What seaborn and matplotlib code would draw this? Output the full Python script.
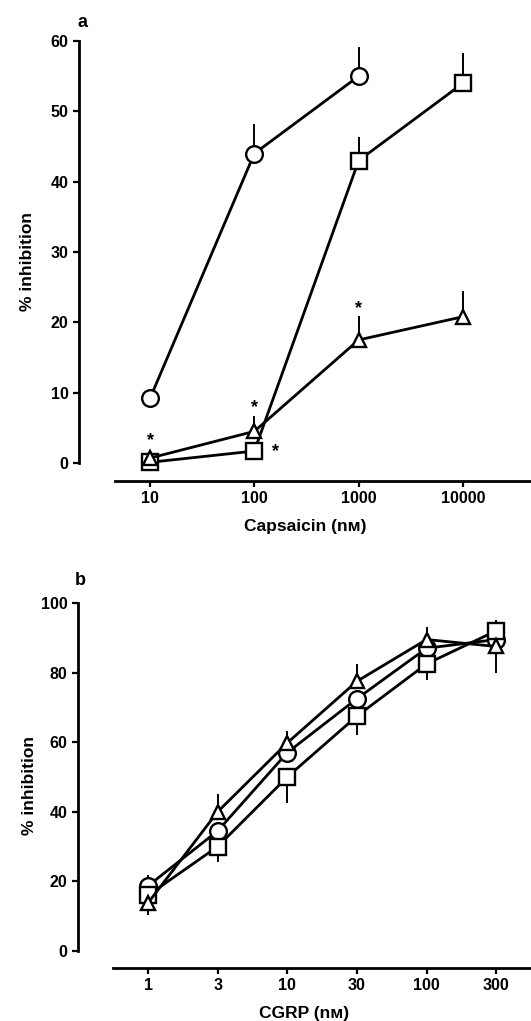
import numpy as np
import pandas as pd
import matplotlib
matplotlib.use("Agg")
import matplotlib.pyplot as plt
import seaborn as sns

sns.set_style("ticks")
plt.rcParams['font.family'] = ['Liberation Sans', 'DejaVu Sans']
plt.rcParams['text.color'] = 'black'
plt.rcParams['axes.labelcolor'] = 'black'
plt.rcParams['xtick.color'] = 'black'
plt.rcParams['ytick.color'] = 'black'

# ---------------- Data: panel a (capsaicin) ----------------
cap_conc = [10, 100, 1000, 10000]
cap_ticks = ["10", "100", "1000", "10000"]

circ_a_x = [10, 100, 1000]
circ_a_y = [9.2, 44.0, 55.0]
circ_a_up = [1.3, 4.2, 4.2]

sq_a_y = [0.1, 1.7, 43.0, 54.0]
sq_a_up = [0.0, 0.0, 3.4, 4.3]
sq_a_dn = [0.0, 1.3, 0.0, 0.0]

tri_a_y = [0.7, 4.5, 17.5, 20.8]
tri_a_up = [0.0, 2.2, 3.4, 3.6]

# asterisks (x, y)
star_x = [10, 100, 160, 1000]
star_y = [3.2, 7.9, 1.6, 22.0]

# ---------------- Data: panel b (CGRP) ----------------
cgrp_labels = ["1", "3", "10", "30", "100", "300"]
cgrp_pos = [0, 1, 2, 3, 4, 5]

circ_b_y = [18.7, 34.5, 57.0, 72.5, 87.0, 89.5]
circ_b_up = [3.0, 2.5, 0.0, 0.0, 0.0, 0.0]
circ_b_dn = [0.0, 0.0, 0.0, 0.0, 0.0, 0.0]

sq_b_y = [16.0, 30.0, 50.0, 67.5, 82.5, 92.0]
sq_b_up = [0.0, 0.0, 0.0, 0.0, 0.0, 3.0]
sq_b_dn = [0.0, 4.5, 7.5, 5.5, 4.5, 0.0]

tri_b_y = [13.8, 40.0, 59.8, 77.5, 89.5, 87.5]
tri_b_up = [0.0, 5.0, 3.5, 5.0, 3.5, 0.0]
tri_b_dn = [3.5, 0.0, 0.0, 0.0, 0.0, 7.5]

LW = 2.0


def series(ax, x, y, up, dn, marker, ms):
    x = np.asarray(x, float)
    y = np.asarray(y, float)
    up = np.asarray(up, float)
    dn = np.asarray(dn, float)
    m = up > 0
    ax.vlines(x[m], y[m], y[m] + up[m], color="black", lw=1.4, zorder=2)
    m = dn > 0
    ax.vlines(x[m], y[m] - dn[m], y[m], color="black", lw=1.4, zorder=2)
    sns.lineplot(x=x, y=y, ax=ax, color="black", lw=LW, marker=marker,
                 markersize=ms, markerfacecolor="white",
                 markeredgecolor="black", markeredgewidth=1.7, zorder=3,
                 sort=False, estimator=None)


fig = plt.figure(figsize=(5.31, 10.21), dpi=100)
H = 1021

# ---------------- panel a ----------------
axa = fig.add_axes([79 / 531, 1 - 481 / H, (531 - 79) / 531, (481 - 41) / H])
series(axa, circ_a_x, circ_a_y, circ_a_up, [0] * 3, "o", 12)
series(axa, cap_conc, sq_a_y, sq_a_up, sq_a_dn, "s", 11)
series(axa, cap_conc, tri_a_y, tri_a_up, [0] * 4, "^", 10)
for sx, sy in zip(star_x, star_y):
    axa.text(sx, sy, "*", ha="center", va="center", fontsize=13,
             fontweight="bold", color="black")
axa.set_xscale("log")
axa.set_xlim(10 ** 0.319, 10 ** 4.652)
axa.set_ylim(-2.56, 60)
axa.set_xticks(cap_conc)
axa.set_xticklabels(cap_ticks)
axa.minorticks_off()
axa.set_yticks([0, 10, 20, 30, 40, 50, 60])
axa.spines["left"].set_bounds(0, 60)
axa.spines["bottom"].set_bounds(10 ** 0.664, 10 ** 4.652)
axa.set_xlabel("Capsaicin (nᴍ)", fontsize=12.5, fontweight="bold", labelpad=9,
               color="black")
axa.set_ylabel("% inhibition", fontsize=12.5, fontweight="bold", labelpad=11,
               color="black")
axa.text(78, H - 22, "a", transform=None, fontsize=13, fontweight="bold",
         ha="left", va="center", color="black")

# ---------------- panel b ----------------
axb = fig.add_axes([78 / 531, 1 - 968 / H, (531 - 78) / 531, (968 - 603) / H])
series(axb, cgrp_pos, circ_b_y, circ_b_up, circ_b_dn, "o", 12)
series(axb, cgrp_pos, sq_b_y, sq_b_up, sq_b_dn, "s", 11)
series(axb, cgrp_pos, tri_b_y, tri_b_up, tri_b_dn, "^", 10)
axb.set_xlim(-1.006, 5.50)
axb.set_ylim(-4.9, 100)
axb.set_xticks(cgrp_pos)
axb.set_xticklabels(cgrp_labels)
axb.set_yticks([0, 20, 40, 60, 80, 100])
axb.spines["left"].set_bounds(0, 100)
axb.spines["bottom"].set_bounds(-0.503, 5.50)
axb.set_xlabel("CGRP (nᴍ)", fontsize=12.5, fontweight="bold", labelpad=9,
               color="black")
axb.set_ylabel("% inhibition", fontsize=12.5, fontweight="bold", labelpad=3,
               color="black")
axb.text(75, H - 580, "b", transform=None, fontsize=13, fontweight="bold",
         ha="left", va="center", color="black")

for ax in (axa, axb):
    sns.despine(ax=ax)
    for s in ("left", "bottom"):
        ax.spines[s].set_linewidth(2.0)
        ax.spines[s].set_color("black")
    ax.tick_params(direction="out", length=4, width=1.6, colors="black",
                   labelsize=11.5)
    for lab in ax.get_xticklabels() + ax.get_yticklabels():
        lab.set_fontweight("bold")

fig.savefig("out.png", dpi=100)
